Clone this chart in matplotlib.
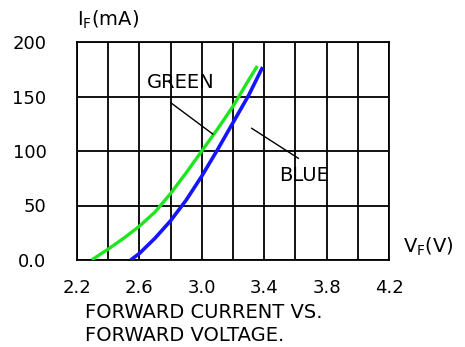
import matplotlib
matplotlib.use("Agg")
import matplotlib.pyplot as plt
import numpy as np

# Forward voltage (V) vs forward current (mA) for the two LED colours
green_vf = [2.294, 2.40, 2.50, 2.60, 2.70, 2.80, 2.90, 3.00, 3.10, 3.20, 3.30, 3.356]
green_if = [0, 10, 20, 31, 44, 61, 80, 100, 120, 141, 165, 178]
blue_vf = [2.544, 2.60, 2.70, 2.80, 2.90, 3.00, 3.10, 3.20, 3.30, 3.39]
blue_if = [0, 6, 20, 36, 55, 77, 101, 126, 151, 177]

x_ticks = [2.2, 2.6, 3.0, 3.4, 3.8, 4.2]
x_tick_labels = ["2.2", "2.6", "3.0", "3.4", "3.8", "4.2"]
y_ticks = [0, 50, 100, 150, 200]
y_tick_labels = ["0.0", "50", "100", "150", "200"]

W, H = 465, 347
fig = plt.figure(figsize=(W / 100, H / 100), dpi=100)
ax = fig.add_axes([77 / W, 1 - 260 / H, 312 / W, 218 / H])

ax.plot(green_vf, green_if, color="#1ee61e", lw=2.4, solid_capstyle="butt",
        solid_joinstyle="round", zorder=3)
ax.plot(blue_vf, blue_if, color="#1414ff", lw=2.6, solid_capstyle="butt",
        solid_joinstyle="round", zorder=3)

ax.set_xlim(2.2, 4.2)
ax.set_ylim(0, 200)
ax.set_xticks(x_ticks)
ax.set_xticklabels(x_tick_labels)
ax.set_xticks(np.arange(2.2, 4.21, 0.2), minor=True)
ax.set_yticks(y_ticks)
ax.set_yticklabels(y_tick_labels)
ax.grid(True, which="both", color="black", lw=1.3)
ax.set_axisbelow(True)
ax.tick_params(which="both", length=0)
ax.tick_params(axis="x", pad=14, labelsize=13)
ax.tick_params(axis="y", pad=22, labelsize=13)
for s in ax.spines.values():
    s.set_color("black")
    s.set_linewidth(1.3)

# Curve labels with leader lines
ax.text(2.867, 162.8, "GREEN", fontsize=14, ha="center", va="center", zorder=4)
ax.plot([2.801, 3.070], [144.3, 115.6], color="black", lw=1.0, zorder=4)
ax.text(3.658, 77.5, "BLUE", fontsize=14, ha="center", va="center", zorder=4)
ax.plot([3.320, 3.619], [120.8, 93.3], color="black", lw=1.0, zorder=4)

# Axis captions
fig.text(77 / W, 1 - 26 / H, r"I$_\mathregular{F}$(mA)", fontsize=14, ha="left", va="baseline")
fig.text(403 / W, 1 - 253 / H, r"V$_\mathregular{F}$(V)", fontsize=14, ha="left", va="baseline")

# Chart caption
fig.text(85 / W, 1 - 318 / H, "FORWARD CURRENT VS.", fontsize=14, ha="left", va="baseline")
fig.text(85 / W, 1 - 341 / H, "FORWARD VOLTAGE.", fontsize=14, ha="left", va="baseline")

fig.savefig("out.png", dpi=100, facecolor="white")
